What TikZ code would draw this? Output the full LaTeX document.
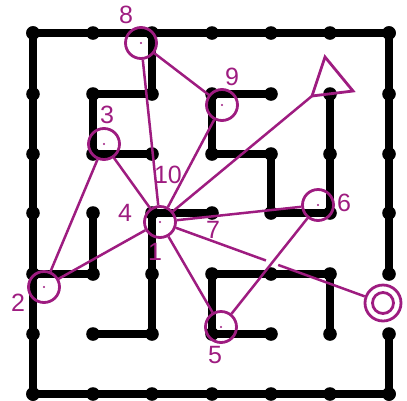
\documentclass[tikz,border=0pt]{standalone}
\usepackage{fontspec}
\setmainfont{Liberation Sans}
\usetikzlibrary{calc}
\definecolor{mag}{RGB}{158,28,128}
\begin{document}
\begin{tikzpicture}[x=1pt,y=-1pt,
  wall/.style={line width=8pt, line cap=round, line join=round, black},
  spot/.style={circle, draw=mag, line width=2.8pt, minimum size=31pt, inner sep=0pt},
  link/.style={draw=mag, line width=2.5pt},
  lbl/.style={text=mag, font=\fontsize{25}{27}\selectfont, inner sep=0pt}
]
\useasboundingbox (0,0) rectangle (407,400);
\foreach \i/\x in {0/33,1/93,2/152,3/212,4/271,5/330,6/389}{
  \foreach \j/\y in {0/33,1/94,2/154,3/213,4/274,5/334,6/394}{
    \coordinate (g\i\j) at (\x,\y);
  }
}
% walls
\draw[wall] (g00) -- (g60) -- (g64);
\draw[wall] (g65) -- (g66) -- (g06) -- (g00);
\draw[wall] (g20) -- (g21) -- (g11) -- (g12) -- (g22);
\draw[wall] (g41) -- (g31) -- (g32) -- (g42) -- (g43) -- (g53) -- (g51);
\draw[wall] (g13) -- (g14) -- (g04);
\draw[wall] (g33) -- (g23) -- (g25) -- (g15);
\draw[wall] (g55) -- (g54) -- (g34) -- (g35) -- (g45);
% dots
\foreach \i in {0,...,6}{
  \fill (g\i0) circle (6.8);
  \fill (g\i6) circle (6.8);
  \fill (g0\i) circle (6.8);
  \fill (g6\i) circle (6.8);
}
\foreach \p in {21,11,12,22,31,41,32,42,43,53,51,52,13,14,23,33,24,25,15,34,44,54,35,45,55}{
  \fill (g\p) circle (6.8);
}
% markers
\node[spot] (n8) at (141,43) {};
\node[spot] (n3) at (104,144) {};
\node[spot] (n9) at (222,105) {};
\node[spot] (n1) at (160,222) {};
\node[spot] (n6) at (318,205) {};
\node[spot] (n2) at (44,287) {};
\node[spot] (n5) at (221,327) {};
\node[spot, minimum size=36pt] (exit) at (383,303) {};
\draw[mag, line width=2.8pt] (exit) circle (10.5);
\foreach \n in {n8,n3,n9,n1,n6,n2,n5}{
  \fill[mag] (\n) circle (1.2);
}
\coordinate (tri) at (312,96);
\draw[mag, line width=2.8pt, line join=miter] (325,57) -- (353,91) -- (tri) -- cycle;
% links
\draw[link] (n1) -- (n8);
\draw[link] (n8) -- (n9);
\draw[link] (n9) -- (n1);
\draw[link] (n1) -- (n3);
\draw[link] (n3) -- (n2);
\draw[link] (n2) -- (n1);
\draw[link] (n1) -- (tri);
\draw[link] (n1) -- (n6);
\draw[link] (n1) -- (n5);
\draw[link] (n5) -- (n6);
\draw[link] (n1) -- ($(n1)!0.475!(exit)$);
\draw[link] ($(n1)!0.53!(exit)$) -- (exit);
% labels
\node[lbl] (l8) at (126,15) {8};
\node[lbl] (l3) at (107,115) {3};
\node[lbl] (l10) at (168,175) {10};
\node[lbl] (l9) at (232,77) {9};
\node[lbl] (l4) at (125,213) {4};
\node[lbl] (l1) at (155,252) {1};
\node[lbl] (l7) at (213,230) {7};
\node[lbl] (l6) at (344,203) {6};
\node[lbl] (l2) at (18,303) {2};
\node[lbl] (l5) at (215,355) {5};
\end{tikzpicture}
\end{document}
